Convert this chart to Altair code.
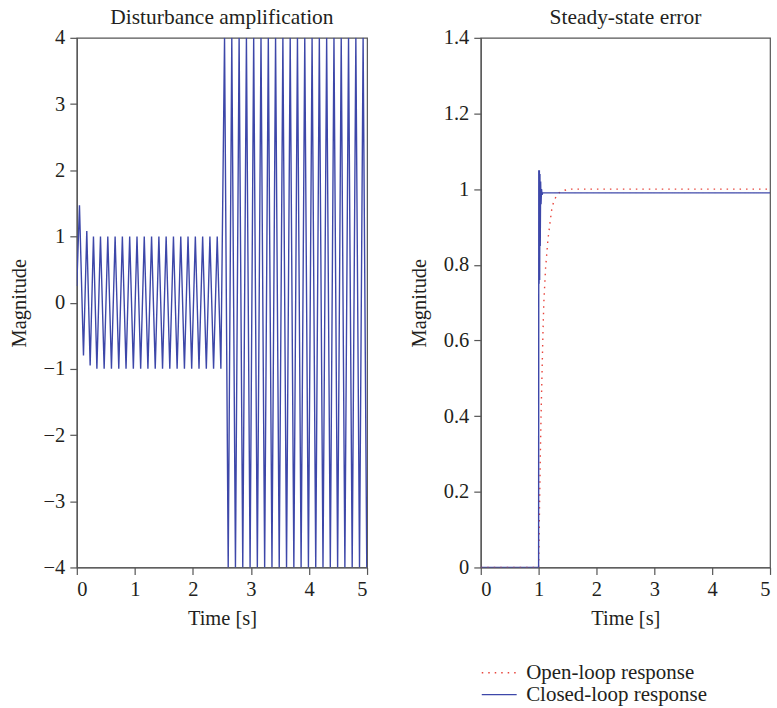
import altair as alt
import pandas as pd

# ---------------- data ----------------
# Left panel: disturbance signal (extremes of the oscillation)
dist_time = [
    0.000, 0.046, 0.115, 0.172, 0.230, 0.287, 0.346, 0.408, 0.471, 0.534,
    0.597, 0.660, 0.723, 0.785, 0.848, 0.911, 0.974, 1.037, 1.100, 1.162,
    1.225, 1.288, 1.351, 1.414, 1.477, 1.539, 1.602, 1.665, 1.728, 1.791,
    1.854, 1.916, 1.979, 2.042, 2.105, 2.168, 2.231, 2.293, 2.356, 2.419,
    2.482, 2.545, 2.608, 2.670, 2.733, 2.796, 2.859, 2.922, 2.985, 3.047,
    3.110, 3.173, 3.236, 3.299, 3.362, 3.424, 3.487, 3.550, 3.613, 3.676,
    3.739, 3.801, 3.864, 3.927, 3.990, 4.053, 4.116, 4.178, 4.241, 4.304,
    4.367, 4.430, 4.493, 4.555, 4.618, 4.681, 4.744, 4.807, 4.870, 4.932,
    4.995, 5.000,
]
dist_value = [
    0.25, 1.47, -0.80, 1.08, -0.95, 1.00, -1.0, 1.0, -1.0, 1.0,
    -1.0, 1.0, -1.0, 1.0, -1.0, 1.0, -1.0, 1.0, -1.0, 1.0,
    -1.0, 1.0, -1.0, 1.0, -1.0, 1.0, -1.0, 1.0, -1.0, 1.0,
    -1.0, 1.0, -1.0, 1.0, -1.0, 1.0, -1.0, 1.0, -1.0, 1.0,
    -1.0, 4.0, -4.0, 4.0, -4.0, 4.0, -4.0, 4.0, -4.0, 4.0,
    -4.0, 4.0, -4.0, 4.0, -4.0, 4.0, -4.0, 4.0, -4.0, 4.0,
    -4.0, 4.0, -4.0, 4.0, -4.0, 4.0, -4.0, 4.0, -4.0, 4.0,
    -4.0, 4.0, -4.0, 4.0, -4.0, 4.0, -4.0, 4.0, -4.0, 4.0,
    -4.0, -3.9,
]

# Right panel: step responses
ol_time = [0.0, 1.0, 1.01, 1.02, 1.03, 1.045, 1.06, 1.075, 1.09, 1.12,
           1.16, 1.20, 1.23, 1.26, 1.30, 1.35, 1.45, 1.56, 5.0]
ol_value = [0.0, 0.0, 0.10, 0.20, 0.30, 0.42, 0.52, 0.62, 0.70, 0.79,
            0.865, 0.915, 0.95, 0.966, 0.98, 0.99, 0.997, 1.0, 1.0]

cl_time = [0.0, 1.0, 1.003, 1.008, 1.013, 1.018, 1.023, 1.028, 1.035,
           1.042, 1.05, 1.06, 1.07, 5.0]
cl_value = [0.0, 0.0, 1.05, 0.75, 1.05, 0.76, 1.04, 0.85, 1.02,
            0.96, 1.00, 0.985, 0.99, 0.99]

series_names = ["Open-loop response", "Closed-loop response"]
x_ticks = [0, 1, 2, 3, 4, 5]
left_y_ticks = [-4, -3, -2, -1, 0, 1, 2, 3, 4]
right_y_ticks = [0, 0.2, 0.4, 0.6, 0.8, 1.0, 1.2, 1.4]

FONT = "Liberation Serif"
BLUE = "#3d47a9"
RED = "#e8453c"
TXT = "#231f20"

left_df = pd.DataFrame({"t": dist_time, "v": dist_value})
right_df = pd.concat([
    pd.DataFrame({"t": ol_time, "v": ol_value, "series": series_names[0]}),
    pd.DataFrame({"t": cl_time, "v": cl_value, "series": series_names[1]}),
], ignore_index=True)

x_enc = alt.X("t:Q", scale=alt.Scale(domain=[0, 5], nice=False),
              axis=alt.Axis(values=x_ticks, title="Time [s]"))

left = alt.Chart(
    left_df, title=alt.TitleParams("Disturbance amplification", frame="group")
).mark_line(color=BLUE, strokeWidth=1.4, clip=True).encode(
    x=x_enc,
    y=alt.Y("v:Q", scale=alt.Scale(domain=[-4, 4], nice=False),
            axis=alt.Axis(values=left_y_ticks, title="Magnitude")),
).properties(width=291, height=531)

# wide, flat custom line symbol so that the rows stay compact
legend_cfg = dict(title=None, orient="none", legendX=413, legendY=626,
                  symbolType="M-2.5,0H2.5", symbolSize=196, symbolStrokeWidth=1.4,
                  labelOffset=16.5, rowPadding=0, labelLimit=0)

right = alt.Chart(
    right_df, title=alt.TitleParams("Steady-state error", frame="group")
).mark_line(strokeWidth=1.4, clip=True, strokeCap="butt").encode(
    x=x_enc,
    y=alt.Y("v:Q", scale=alt.Scale(domain=[0, 1.4], nice=False),
            axis=alt.Axis(values=right_y_ticks, format="~g", title="Magnitude")),
    color=alt.Color("series:N", scale=alt.Scale(domain=series_names, range=[RED, BLUE]),
                    legend=alt.Legend(**legend_cfg)),
    strokeDash=alt.StrokeDash("series:N",
                              scale=alt.Scale(domain=series_names, range=[[1.5, 5], [1, 0]]),
                              legend=alt.Legend(**legend_cfg)),
).properties(width=290, height=531)

chart = alt.hconcat(left, right, spacing=39).properties(
    padding={"left": 8, "top": 5, "right": 5, "bottom": 5}
).configure_view(
    stroke="#555555", strokeWidth=1.2
).configure_axis(
    domainColor="#555555", tickColor="#555555", domainWidth=1.2, tickWidth=1.2,
    tickSize=7, grid=False, labelFont=FONT, labelFontSize=20.5, labelColor=TXT,
    titleFont=FONT, titleFontSize=20.5, titleFontWeight="normal", titleColor=TXT,
    labelPadding=5
).configure_axisY(titlePadding=14).configure_axisX(titlePadding=9).configure_title(
    font=FONT, fontSize=21.5, fontWeight="normal", color=TXT, offset=-1
).configure_legend(
    labelFont=FONT, labelFontSize=21, labelColor=TXT
)

chart.save("out.html", embed_options={"renderer": "svg", "actions": False})
